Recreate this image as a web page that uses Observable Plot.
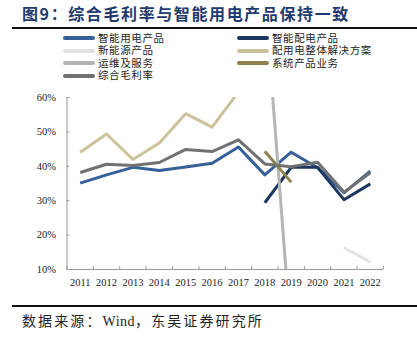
<!DOCTYPE html>
<html>
<head>
<meta charset="utf-8">
<script src="https://cdn.jsdelivr.net/npm/d3@7"></script>
<script src="https://cdn.jsdelivr.net/npm/@observablehq/plot@0.6"></script>
<style>
  html, body { margin: 0; padding: 0; background: #fff; }
  body { width: 417px; height: 337px; position: relative; overflow: hidden; font-family: "Noto Sans CJK SC", sans-serif; }
  #title { position: absolute; left: 22px; top: 2px; font-size: 16px; font-weight: bold; color: #1F3A6E; letter-spacing: 1.6px; white-space: nowrap; line-height: 22px; }
  .hr { position: absolute; left: 12px; width: 405px; height: 2px; background: #111; }
  #legend { position: absolute; left: 0; top: 0; }
  .lc { position: absolute; font-size: 10.5px; color: #222; white-space: pre; line-height: 12.5px; letter-spacing: 0.6px; }
  .sw { position: absolute; height: 4px; width: 32px; border-radius: 2px; }
  #chart { position: absolute; left: 0; top: 88px; }
  #source { position: absolute; left: 22px; top: 311px; font-size: 14px; color: #222; letter-spacing: 2.1px; white-space: nowrap; line-height: 18px; }
  #source .w { font-family: "Liberation Serif", serif; letter-spacing: 0.5px; }
</style>
</head>
<body>
<div id="title">图9：综合毛利率与智能用电产品保持一致</div>
<div class="hr" style="top:27px"></div>
<div id="legend"></div>
<div id="chart"></div>
<div class="hr" style="top:305px"></div>
<div id="source">数据来源：<span class="w">Wind</span>，东吴证券研究所</div>
<script>
const years = [2011, 2012, 2013, 2014, 2015, 2016, 2017, 2018, 2019, 2020, 2021, 2022];
const seriesNames = ["智能用电产品", "智能配电产品", "新能源产品", "配用电整体解决方案", "运维及服务", "系统产品业务", "综合毛利率"];
const seriesColors = ["#35609A", "#1C375F", "#E2E2E2", "#CBC29C", "#B5B5B5", "#908250", "#717171"];
const smartUse   = [35.1, 37.5, 39.7, 38.8, 39.8, 40.9, 45.6, 37.5, 44.1, 39.6, 32.3, 38.6];
const smartDist  = [null, null, null, null, null, null, null, 29.4, 39.7, 39.7, 30.3, 34.9];
const newEnergy  = [null, null, null, null, null, null, null, null, null, null, 16.4, 12.1];
const solution   = [44.1, 49.4, 42.0, 46.8, 55.3, 51.4, 61.6, null, null, null, null, null];
const service    = [null, null, null, null, null, null, null, 90.0, -10.0, null, null, null];
const systemProd = [null, null, null, null, null, null, null, 44.4, 35.4, null, null, null];
const overall    = [38.2, 40.6, 40.2, 41.1, 44.9, 44.3, 47.7, 40.7, 39.9, 41.2, 32.5, 38.1];
const yTicks = [10, 20, 30, 40, 50, 60];

const allSeries = [smartUse, smartDist, newEnergy, solution, service, systemProd, overall];
const rows = [];
allSeries.forEach((vals, i) => {
  vals.forEach((v, j) => { if (v != null) rows.push({series: seriesNames[i], year: years[j], value: v}); });
});
const bounds = d3.range(years[0] - 0.5, years[years.length - 1] + 1, 1);

// legend: two columns, Excel row-major order
const legend = document.getElementById("legend");
const colX = [63, 237];
const rowY0 = 38, rowH = 12.5;
const colTexts = [[], []];
seriesNames.forEach((name, i) => {
  const c = i % 2, r = Math.floor(i / 2);
  const x = colX[c];
  const y = rowY0 + r * rowH;
  const sw = document.createElement("div");
  sw.className = "sw"; sw.style.left = x + "px"; sw.style.top = (y - 2) + "px"; sw.style.background = seriesColors[i];
  legend.appendChild(sw);
  colTexts[c].push(name);
});
colTexts.forEach((names, c) => {
  const t = document.createElement("div");
  t.className = "lc";
  t.style.left = (colX[c] + 35) + "px";
  t.style.top = (rowY0 - rowH / 2) + "px";
  t.textContent = names.join("\n");
  legend.appendChild(t);
});

const axisFont = {fontFamily: "Liberation Serif, serif", fontSize: "10.5px"};
const chart = Plot.plot({
  width: 417,
  height: 215,
  marginLeft: 66.5,
  marginRight: 34,
  marginTop: 9,
  marginBottom: 34,
  style: {...axisFont, color: "#222", background: "transparent"},
  x: {domain: [years[0] - 0.5, years[years.length - 1] + 0.5]},
  y: {domain: [10, 60]},
  color: {domain: seriesNames, range: seriesColors},
  marks: [
    Plot.axisX({ticks: years, tickSize: 0, tickPadding: 9, tickFormat: d => String(d), label: null}),
    Plot.axisX({ticks: bounds, tickSize: -3, tickFormat: () => "", stroke: "#999", label: null}),
    Plot.axisY({ticks: yTicks, tickSize: 0, tickPadding: 11, tickFormat: d => d + "%", label: null}),
    Plot.axisY({ticks: yTicks, tickSize: -3, tickFormat: () => "", stroke: "#999", label: null}),
    Plot.ruleY([10], {stroke: "#999", strokeWidth: 1}),
    Plot.ruleX([years[0] - 0.5], {stroke: "#999", strokeWidth: 1}),
    Plot.line(rows, {x: "year", y: "value", z: "series", stroke: "series", strokeWidth: 3, clip: true, strokeLinejoin: "round", strokeLinecap: "butt"})
  ]
});
document.getElementById("chart").appendChild(chart);
</script>
</body>
</html>
